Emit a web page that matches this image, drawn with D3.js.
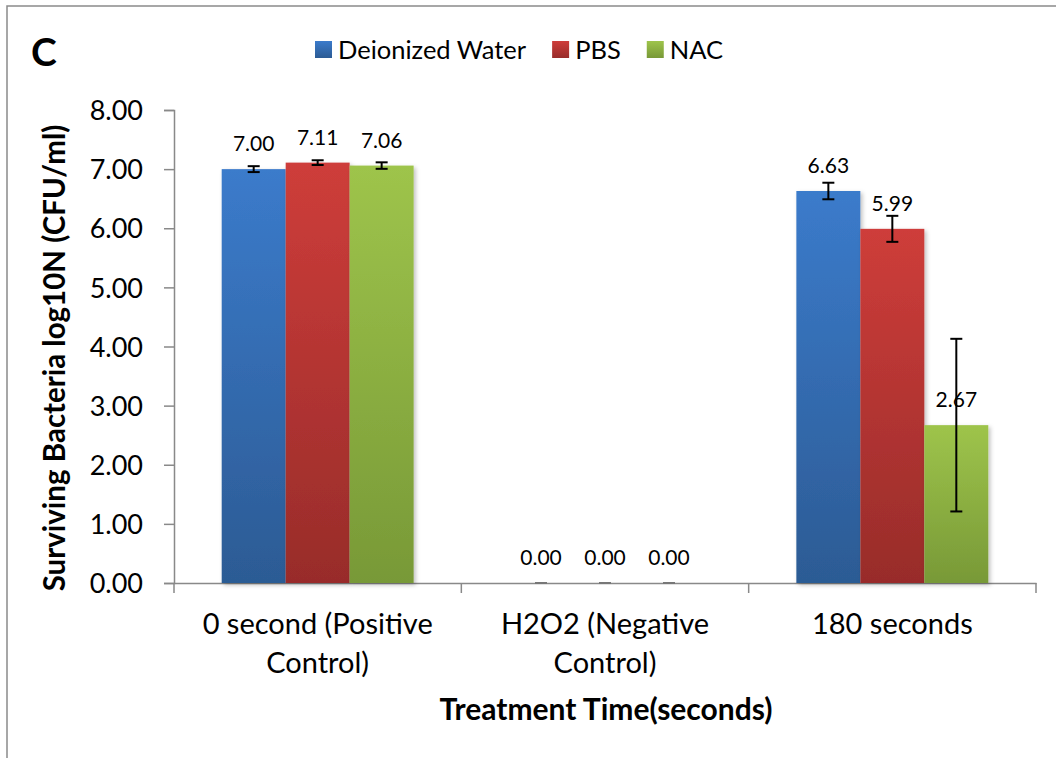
<!DOCTYPE html>
<html>
<head>
<meta charset="utf-8">
<script src="https://cdn.jsdelivr.net/npm/d3@7"></script>
<style>
  body { margin: 0; background: #fff; }
  text { font-family: Lato, "Open Sans", sans-serif; fill: #000; }
</style>
</head>
<body>
<svg></svg>
<script>
// chart data
var categories = ["0 second (Positive Control)", "H2O2 (Negative Control)", "180 seconds"];
var categoryLines = [["0 second (Positive", "Control)"], ["H2O2 (Negative", "Control)"], ["180 seconds"]];
var seriesNames = ["Deionized Water", "PBS", "NAC"];
var waterValues = [7.00, 0.00, 6.63];
var pbsValues = [7.11, 0.00, 5.99];
var nacValues = [7.06, 0.00, 2.67];
var waterErrors = [0.05, 0.00, 0.14];
var pbsErrors = [0.04, 0.00, 0.22];
var nacErrors = [0.055, 0.00, 1.46];
var yTicks = [0, 1, 2, 3, 4, 5, 6, 7, 8];

var width = 1056;
var height = 758;

var svg = d3.select("svg").attr("width", width).attr("height", height);

// gradients for bars (light top, dark bottom)
var colors = [
    { id: "gBlue", top: "#3b7bcb", bottom: "#2c5b94" },
    { id: "gRed", top: "#ce3d3a", bottom: "#982c2a" },
    { id: "gGreen", top: "#9ec44b", bottom: "#789937" }
];
var defs = svg.append("defs");
colors.forEach(function(c) {
    var lg = defs.append("linearGradient").attr("id", c.id)
        .attr("x1", 0).attr("y1", 0).attr("x2", 0).attr("y2", 1);
    lg.append("stop").attr("offset", "0%").attr("stop-color", c.top);
    lg.append("stop").attr("offset", "100%").attr("stop-color", c.bottom);
});
var shadow = defs.append("filter").attr("id", "shadow")
    .attr("x", "-10%").attr("y", "-10%").attr("width", "130%").attr("height", "130%");
shadow.append("feDropShadow").attr("dx", 2).attr("dy", 2).attr("stdDeviation", 2)
    .attr("flood-color", "#000").attr("flood-opacity", 0.25);

// outer chart border (right/bottom edges fall outside the picture)
svg.append("rect")
    .attr("x", 7).attr("y", 6).attr("width", 1100).attr("height", 800)
    .attr("fill", "none").attr("stroke", "#8a8a8a").attr("stroke-width", 1.5);

// scales
var x0 = d3.scaleBand().domain(categories).range([174, 1036]).padding(0);
var x1 = d3.scaleBand().domain(seriesNames)
    .range([x0.bandwidth() * 0.166, x0.bandwidth() * 0.834]).padding(0);
var y = d3.scaleLinear().domain([0, 8]).range([583, 110]);

var axisColor = "#898989";

// y axis
var yAxis = svg.append("g").attr("transform", "translate(174,0)")
    .call(d3.axisLeft(y).tickValues(yTicks).tickFormat(d3.format(".2f")).tickSize(10).tickPadding(21));
yAxis.select(".domain").attr("stroke", axisColor).attr("stroke-width", 1.5);
yAxis.selectAll(".tick line").attr("stroke", axisColor).attr("stroke-width", 1.5);
yAxis.selectAll(".tick text").style("font-size", "27px").attr("dy", "0.36em");

// x axis
var xAxis = svg.append("g").attr("transform", "translate(0,583)")
    .call(d3.axisBottom(x0).tickSize(0).tickFormat(""));
xAxis.select(".domain").attr("stroke", axisColor).attr("stroke-width", 1.5);
xAxis.selectAll(".tick").remove();
// tick marks at category boundaries
var bounds = categories.map(function(c) { return x0(c); }).concat([x0.range()[1]]);
xAxis.selectAll("line.sep").data(bounds).enter().append("line")
    .attr("class", "sep")
    .attr("x1", d => d).attr("x2", d => d)
    .attr("y1", 0).attr("y2", 10)
    .attr("stroke", axisColor).attr("stroke-width", 1.5);

// category labels
categories.forEach(function(c, i) {
    var t = svg.append("text")
        .attr("text-anchor", "middle")
        .style("font-size", "29px");
    categoryLines[i].forEach(function(line, j) {
        t.append("tspan")
            .attr("x", x0(c) + x0.bandwidth() / 2)
            .attr("y", 634 + j * 39)
            .text(line);
    });
});

// bars
var valueSets = [waterValues, pbsValues, nacValues];
var errorSets = [waterErrors, pbsErrors, nacErrors];
var barData = [];
seriesNames.forEach(function(s, si) {
    categories.forEach(function(c, ci) {
        barData.push({ series: s, si: si, cat: c, value: valueSets[si][ci], err: errorSets[si][ci] });
    });
});

var g = svg.append("g");
g.selectAll("rect.bar").data(barData).enter().append("rect")
    .attr("class", "bar")
    .attr("x", d => x0(d.cat) + x1(d.series))
    .attr("y", d => y(d.value))
    .attr("width", x1.bandwidth())
    .attr("height", d => y(0) - y(d.value))
    .attr("fill", d => "url(#" + colors[d.si].id + ")")
    .attr("filter", d => d.value > 0 ? "url(#shadow)" : null);

// error bars
var eb = g.selectAll("g.err").data(barData).enter().append("g").attr("class", "err")
    .attr("transform", d => "translate(" + (x0(d.cat) + x1(d.series) + x1.bandwidth() / 2) + ",0)")
    .attr("stroke", d => d.value > 0 ? "#000" : "#777")
    .attr("stroke-width", 2);
eb.append("line").attr("x1", 0).attr("x2", 0)
    .attr("y1", d => y(d.value + d.err)).attr("y2", d => y(d.value - d.err));
eb.append("line").attr("x1", -6).attr("x2", 6)
    .attr("y1", d => y(d.value + d.err)).attr("y2", d => y(d.value + d.err));
eb.append("line").attr("x1", -6).attr("x2", 6)
    .attr("y1", d => y(d.value - d.err)).attr("y2", d => y(d.value - d.err));

// value labels
g.selectAll("text.val").data(barData).enter().append("text")
    .attr("class", "val")
    .attr("x", d => x0(d.cat) + x1(d.series) + x1.bandwidth() / 2)
    .attr("y", d => y(d.value) - 18)
    .attr("text-anchor", "middle")
    .style("font-size", "21px")
    .text(d => d3.format(".2f")(d.value));

// axis titles
svg.append("text")
    .attr("x", 606).attr("y", 720)
    .attr("text-anchor", "middle")
    .style("font-size", "30px").style("font-weight", "bold")
    .text("Treatment Time(seconds)");

svg.append("text")
    .attr("transform", "translate(65,358) rotate(-90)")
    .attr("text-anchor", "middle")
    .style("font-size", "29.5px").style("font-weight", "bold")
    .text("Surviving Bacteria log10N (CFU/ml)");

// panel letter
svg.append("text")
    .attr("x", 31).attr("y", 66)
    .style("font-size", "39px").style("font-weight", "bold")
    .text("C");

// legend
var lx = 338;
seriesNames.forEach(function(s, i) {
    svg.append("rect")
        .attr("x", lx - 23).attr("y", 41).attr("width", 17).attr("height", 17)
        .attr("fill", "url(#" + colors[i].id + ")");
    var t = svg.append("text")
        .attr("x", lx).attr("y", 59)
        .style("font-size", "25.5px")
        .text(s);
    lx = lx + t.node().getComputedTextLength() + 49;
});
</script>
</body>
</html>
